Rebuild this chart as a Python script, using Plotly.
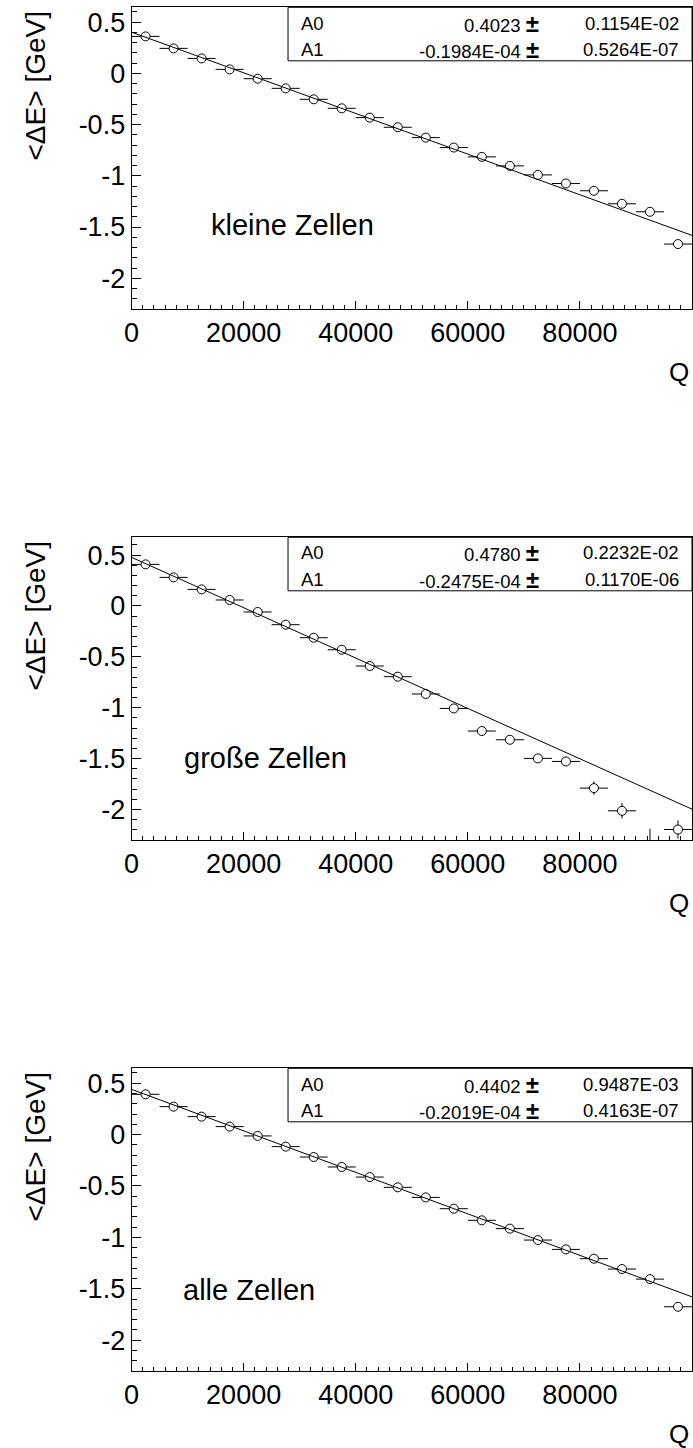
import plotly.graph_objects as go

# Bin centres in Q (bin width 5000)
q_centres = [2500, 7500, 12500, 17500, 22500, 27500, 32500, 37500, 42500, 47500,
             52500, 57500, 62500, 67500, 72500, 77500, 82500, 87500, 92500, 97500]
q_halfwidth = [2500] * 20

# Mean energy shift per bin [GeV]
de_kleine = [0.361, 0.244, 0.146, 0.039, -0.052, -0.146, -0.253, -0.341, -0.432, -0.526,
             -0.627, -0.724, -0.815, -0.903, -0.991, -1.075, -1.146, -1.273, -1.351, -1.666]
err_kleine = [0.01] * 18 + [0.02, 0.03]

de_grosse = [0.409, 0.281, 0.163, 0.059, -0.059, -0.184, -0.312, -0.430, -0.590, -0.695,
             -0.865, -1.007, -1.229, -1.315, -1.498, -1.528, -1.790, -2.013, -2.400, -2.197]
err_grosse = [0.01, 0.01, 0.01, 0.01, 0.01, 0.01, 0.015, 0.015, 0.02, 0.02,
              0.025, 0.03, 0.03, 0.035, 0.04, 0.045, 0.066, 0.075, 0.21, 0.09]

de_alle = [0.392, 0.272, 0.175, 0.078, -0.013, -0.117, -0.218, -0.315, -0.413, -0.513,
           -0.611, -0.721, -0.834, -0.915, -1.026, -1.117, -1.207, -1.308, -1.406, -1.675]
err_alle = [0.01] * 18 + [0.02, 0.03]

# Linear fit results  <dE> = A0 + A1 * Q
fit_a0 = [0.4023, 0.4780, 0.4402]
fit_a0_err = ["0.1154E-02", "0.2232E-02", "0.9487E-03"]
fit_a1 = [-0.1984E-04, -0.2475E-04, -0.2019E-04]
fit_a1_err = ["0.5264E-07", "0.1170E-06", "0.4163E-07"]
fit_a0_txt = ["0.4023", "0.4780", "0.4402"]
fit_a1_txt = ["-0.1984E-04", "-0.2475E-04", "-0.2019E-04"]
fit_q_range = [0, 100000]

panel_labels = ["kleine Zellen", "große Zellen", "alle Zellen"]

x_tickvals = [0, 20000, 40000, 60000, 80000]
x_ticktext = ["0", "20000", "40000", "60000", "80000"]
y_tickvals = [0.5, 0, -0.5, -1, -1.5, -2]
y_ticktext = ["0.5", "0", "-0.5", "-1", "-1.5", "-2"]

W, H = 693, 1448
FONT = "Liberation Sans, Arial, Helvetica, sans-serif"


def fx(px):
    return px / W


def fy(py):
    return 1 - py / H


# Pixel geometry of the three frames (left, right, top, bottom)
frames = [
    (125, 692, 7.3, 309.0),
    (125, 692, 537.3, 840.0),
    (125, 692, 1068.3, 1371.0),
]
y_ranges = [[-2.3, 0.645], [-2.3, 0.675], [-2.3, 0.645]]

series = [(de_kleine, err_kleine), (de_grosse, err_grosse), (de_alle, err_alle)]

fig = go.Figure()
annotations = []
shapes = []

for i in range(3):
    sfx = "" if i == 0 else str(i + 1)
    xa, ya = "x" + sfx, "y" + sfx
    vals, errs = series[i]
    left, right, top, bottom = frames[i]

    fig.add_trace(go.Scatter(
        x=q_centres, y=vals, xaxis=xa, yaxis=ya, mode="markers",
        marker=dict(symbol="circle", size=9, color="white",
                    line=dict(color="black", width=1)),
        error_x=dict(type="data", array=q_halfwidth, visible=True,
                     color="black", thickness=1, width=0),
        error_y=dict(type="data", array=errs, visible=True,
                     color="black", thickness=1, width=0),
        showlegend=False, hoverinfo="skip"))

    fit_y = [fit_a0[i] + fit_a1[i] * q for q in fit_q_range]
    fig.add_trace(go.Scatter(
        x=fit_q_range, y=fit_y, xaxis=xa, yaxis=ya, mode="lines",
        line=dict(color="black", width=1), showlegend=False, hoverinfo="skip"))

    fig.layout["xaxis" + sfx] = dict(
        domain=[fx(left), fx(right)], range=[0, 100000], anchor=ya,
        tickmode="array", tickvals=x_tickvals, ticktext=x_ticktext,
        ticks="inside", ticklen=8, tickwidth=1, tickcolor="black",
        minor=dict(dtick=2000, tick0=0, ticks="inside", ticklen=4,
                   tickwidth=1, tickcolor="black", showgrid=False),
        showline=True, linecolor="black", linewidth=1, mirror=True,
        showgrid=False, zeroline=False,
        tickfont=dict(family=FONT, size=27, color="black"))
    fig.layout["yaxis" + sfx] = dict(
        domain=[fy(bottom), fy(top)], range=y_ranges[i], anchor=xa,
        tickmode="array", tickvals=y_tickvals, ticktext=y_ticktext,
        ticks="inside", ticklen=9, tickwidth=1, tickcolor="black",
        minor=dict(dtick=0.1, tick0=0, ticks="inside", ticklen=5,
                   tickwidth=1, tickcolor="black", showgrid=False),
        showline=True, linecolor="black", linewidth=1, mirror=True,
        showgrid=False, zeroline=False,
        tickfont=dict(family=FONT, size=27, color="black"))

    # Fit parameter box
    box_bottom = top + 53.5
    shapes.append(dict(type="rect", xref="paper", yref="paper",
                       x0=fx(283.3), x1=fx(right), y0=fy(box_bottom), y1=fy(top),
                       line=dict(color="black", width=1), fillcolor="white"))
    row0 = top + 15.7
    row1 = top + 42.0
    for row_y, name, val, err in [(row0, "A0", fit_a0_txt[i], fit_a0_err[i]),
                                  (row1, "A1", fit_a1_txt[i], fit_a1_err[i])]:
        annotations.append(dict(x=fx(294.7), y=fy(row_y), xref="paper", yref="paper",
                                text=name, showarrow=False, xanchor="left",
                                yanchor="middle",
                                font=dict(family=FONT, size=18.5, color="black")))
        annotations.append(dict(x=fx(539), y=fy(row_y), xref="paper", yref="paper",
                                text=val + ' <span style="font-size:24px"><b>±</b></span>',
                                showarrow=False, xanchor="right", yanchor="middle",
                                font=dict(family=FONT, size=18.5, color="black")))
        annotations.append(dict(x=fx(680.5), y=fy(row_y), xref="paper", yref="paper",
                                text=err, showarrow=False, xanchor="right",
                                yanchor="middle",
                                font=dict(family=FONT, size=18.5, color="black")))

    # Axis titles
    annotations.append(dict(x=fx(28), y=fy(top + 78.5), xref="paper", yref="paper",
                            text="&lt;ΔE&gt; [GeV]", textangle=-90, showarrow=False,
                            xanchor="center", yanchor="middle",
                            font=dict(family=FONT, size=28, color="black")))
    annotations.append(dict(x=fx(679), y=fy(bottom + 63), xref="paper", yref="paper",
                            text="Q", showarrow=False, xanchor="center",
                            yanchor="middle",
                            font=dict(family=FONT, size=26, color="black")))

label_pos = [(203.7, 225.0), (175.7, 758.0), (174.7, 1290.0)]
for (lx, ly), txt in zip(label_pos, panel_labels):
    annotations.append(dict(x=fx(lx), y=fy(ly), xref="paper", yref="paper",
                            text=txt, showarrow=False, xanchor="left",
                            yanchor="middle",
                            font=dict(family=FONT, size=29, color="black")))

fig.update_layout(
    width=W, height=H, margin=dict(l=0, r=0, t=0, b=0),
    paper_bgcolor="white", plot_bgcolor="white",
    annotations=annotations, shapes=shapes, showlegend=False)

fig.write_html("out.html")
